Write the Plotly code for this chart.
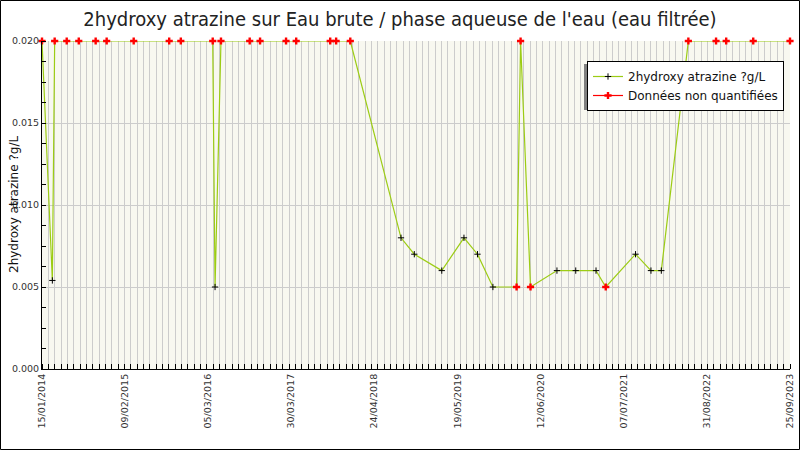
import plotly.graph_objects as go
from datetime import date, timedelta

# ---- data ----
dates = [
    "2014-01-15", "2014-03-05", "2014-03-16", "2014-05-12", "2014-07-08",
    "2014-09-26", "2014-11-17", "2015-03-25", "2015-09-09", "2015-11-03",
    "2016-04-02", "2016-04-13", "2016-05-11", "2016-09-24", "2016-11-12",
    "2017-03-15", "2017-05-02", "2017-10-10", "2017-11-07", "2018-01-13",
    "2018-09-10", "2018-11-12", "2019-03-22", "2019-07-05", "2019-09-07",
    "2019-11-19", "2020-03-10", "2020-03-29", "2020-05-15", "2020-09-17",
    "2020-12-15", "2021-03-21", "2021-05-06", "2021-09-24", "2021-12-06",
    "2022-01-24", "2022-06-01", "2022-10-10", "2022-11-27", "2023-04-04",
    "2023-09-25",
]
values = [
    0.020, 0.0054, 0.020, 0.020, 0.020,
    0.020, 0.020, 0.020, 0.020, 0.020,
    0.020, 0.005, 0.020, 0.020, 0.020,
    0.020, 0.020, 0.020, 0.020, 0.020,
    0.008, 0.007, 0.006, 0.008, 0.007,
    0.005, 0.005, 0.020, 0.005, 0.006,
    0.006, 0.006, 0.005, 0.007, 0.006,
    0.006, 0.020, 0.020, 0.020, 0.020,
    0.020,
]
# True = quantified (black), False = non quantified (red)
quantified = [
    False, True, False, False, False,
    False, False, False, False, False,
    False, True, False, False, False,
    False, False, False, False, False,
    True, True, True, True, True,
    True, False, False, False, True,
    True, True, False, True, True,
    True, False, False, False, False,
    False,
]
x_tick_labels = ["15/01/2014", "09/02/2015", "05/03/2016", "30/03/2017", "24/04/2018",
                 "19/05/2019", "12/06/2020", "07/07/2021", "31/08/2022", "25/09/2023"]
y_tick_vals = [0.0, 0.005, 0.010, 0.015, 0.020]

series_name = "2hydroxy atrazine ?g/L"
nq_name = "Données non quantifiées"
title = "2hydroxy atrazine sur Eau brute / phase aqueuse de l'eau (eau filtrée)"

# ---- layout helpers ----
x_start = date(2014, 1, 15)
x_end = date(2023, 9, 25)
span = (x_end - x_start).days
n_int = len(x_tick_labels) - 1
tick_pos = [(x_start + timedelta(days=round(i * span / n_int))).isoformat() for i in range(len(x_tick_labels))]

qx = [d for d, q in zip(dates, quantified) if q]
qy = [v for v, q in zip(values, quantified) if q]
nx = [d for d, q in zip(dates, quantified) if not q]
ny = [v for v, q in zip(values, quantified) if not q]

LINE_COLOR = "#9ccc14"
BLACK_MARK = dict(symbol="cross-thin", size=4.5, color="black", line=dict(color="black", width=1))
RED_MARK = dict(symbol="cross", size=6, color="#ff0000", line=dict(width=0))

fig = go.Figure()
fig.add_trace(go.Scatter(x=dates, y=values, mode="lines",
                         line=dict(color=LINE_COLOR, width=1.2),
                         showlegend=False, hoverinfo="skip", cliponaxis=False))
fig.add_trace(go.Scatter(x=qx, y=qy, mode="markers", marker=BLACK_MARK,
                         showlegend=False))
fig.add_trace(go.Scatter(x=nx, y=ny, mode="markers", marker=RED_MARK,
                         showlegend=False, cliponaxis=False))
# legend entries
fig.add_trace(go.Scatter(x=[None], y=[None], mode="lines+markers", name=series_name,
                         line=dict(color=LINE_COLOR, width=1.2), marker=BLACK_MARK))
fig.add_trace(go.Scatter(x=[None], y=[None], mode="lines+markers", name=nq_name,
                         line=dict(color="#ff0000", width=1.2), marker=RED_MARK))

W, H = 800, 450
ML, MR, MT, MB = 42, 10, 41, 81
PW, PH = W - ML - MR, H - MT - MB

def px(xp):
    return (xp - ML) / PW

def py(yp):
    return 1 - (yp - MT) / PH

LEG_L, LEG_R, LEG_T, LEG_B = 587, 784, 61, 104

shapes = [
    # legend shadow
    dict(type="rect", xref="paper", yref="paper",
         x0=px(LEG_L - 3), x1=px(LEG_R - 3), y0=py(LEG_B + 6), y1=py(LEG_T + 3),
         fillcolor="#808080", line=dict(width=0), layer="above"),
    # outer frame
    dict(type="rect", xref="paper", yref="paper",
         x0=px(0.5), x1=px(W - 0.5), y0=py(H - 0.5), y1=py(0.5),
         line=dict(color="black", width=1), fillcolor="rgba(0,0,0,0)", layer="above"),
]

annotations = [
    dict(text=series_name, xref="paper", yref="paper", x=px(14), y=py(205),
         xanchor="center", yanchor="middle", textangle=-90, showarrow=False,
         font=dict(family="DejaVu Sans", size=12, color="#111111")),
]

fig.update_layout(
    width=W, height=H,
    margin=dict(l=ML, r=MR, t=MT, b=MB, autoexpand=False),
    paper_bgcolor="white",
    plot_bgcolor="#f8f8f0",
    font=dict(family="DejaVu Sans", color="#333333"),
    title=dict(text=title, x=0.5, xref="container", xanchor="center",
               y=1 - 19 / H, yref="container", yanchor="middle",
               font=dict(family="DejaVu Sans Condensed, DejaVu Sans", size=20, color="#222222")),
    xaxis=dict(
        type="date", automargin=False,
        range=[x_start.isoformat(), x_end.isoformat()],
        tickmode="array", tickvals=tick_pos, ticktext=x_tick_labels,
        tickangle=-90, tickfont=dict(size=9.5, color="#333333"),
        showgrid=False, zeroline=False,
        showline=True, linecolor="black", linewidth=1,
        ticks="",
        minor=dict(dtick=30 * 86400000, tick0=x_start.isoformat(),
                   showgrid=True, gridcolor="#cccccc", gridwidth=1,
                   ticks="inside", ticklen=5, tickcolor="black"),
    ),
    yaxis=dict(
        automargin=False,
        range=[0, 0.020],
        tickmode="array", tickvals=y_tick_vals, tickformat=".3f",
        tickfont=dict(size=9.5, color="#333333"),
        showgrid=True, gridcolor="#cccccc", gridwidth=1,
        zeroline=False,
        showline=True, linecolor="black", linewidth=1,
        ticks="",
        minor=dict(dtick=0.00125, tick0=0, showgrid=False,
                   ticks="inside", ticklen=4, tickcolor="black"),
    ),
    legend=dict(
        x=px(LEG_R), y=py(LEG_T), xanchor="right", yanchor="top",
        bgcolor="white", bordercolor="black", borderwidth=1,
        font=dict(size=12, color="#111111"),
        tracegroupgap=0, itemwidth=30,
    ),
    shapes=shapes,
    annotations=annotations,
    showlegend=True,
)

fig.write_html("out.html", config={"displayModeBar": False},
               post_script="document.body.style.margin='0';document.body.style.overflow='hidden';")
